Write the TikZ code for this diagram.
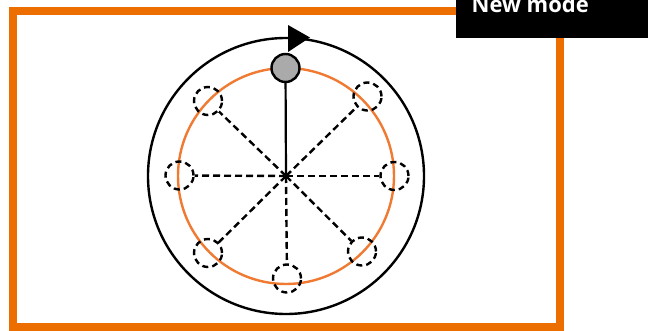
\documentclass[tikz,border=0pt]{standalone}
\usepackage{fontspec}
\setmainfont{Open Sans}
\definecolor{frameorange}{HTML}{EC6D00}
\definecolor{ringorange}{HTML}{F07A32}
\definecolor{ballgray}{HTML}{AAAAAA}
\begin{document}
\begin{tikzpicture}[x=1pt,y=-1pt,
  slot/.style={circle,draw=black,line width=2.4pt,minimum size=28pt,inner sep=0pt,
    dash pattern=on 6pt off 4pt},
  spoke/.style={draw=black,line width=2.4pt,dash pattern=on 7pt off 4pt},
  ball/.style={circle,draw=black,fill=ballgray,line width=2.4pt,minimum size=28pt,inner sep=0pt}]
\useasboundingbox (0,0) rectangle (648,331);
% frame
\draw[frameorange,line width=7.5pt] (13,11) rectangle (560,327);
% circles
\coordinate (c) at (286,176);
\draw[black,line width=2.4pt] (c) circle[radius=138];
\draw[ringorange,line width=2.4pt] (c) circle[radius=108];
% arrow head on outer circle
\fill[black] (288,25) -- (310,37.5) -- (288,52) -- cycle;
% slots
\node[slot] (tl) at (208,101) {};
\node[slot] (tr) at (367.5,96.5) {};
\node[slot] (l) at (179.5,175.5) {};
\node[slot] (r) at (394.5,176) {};
\node[slot] (bl) at (208,253) {};
\node[slot] (b) at (287,278.5) {};
\node[slot] (br) at (362,251.5) {};
\foreach \n in {tl,tr,l,r,bl,b,br} \draw[spoke] (c) -- (\n);
% ball
\node[ball] (ball) at (285.5,68) {};
\draw[black,line width=2.2pt] (c) -- (ball);
% label
\fill[black] (456,0) rectangle (648,38.5);
\node[anchor=base west,inner sep=0pt,text=white,font=\fontsize{22}{26}\selectfont\bfseries] (lab) at (471.5,12.5) {New mode};
\end{tikzpicture}
\end{document}
